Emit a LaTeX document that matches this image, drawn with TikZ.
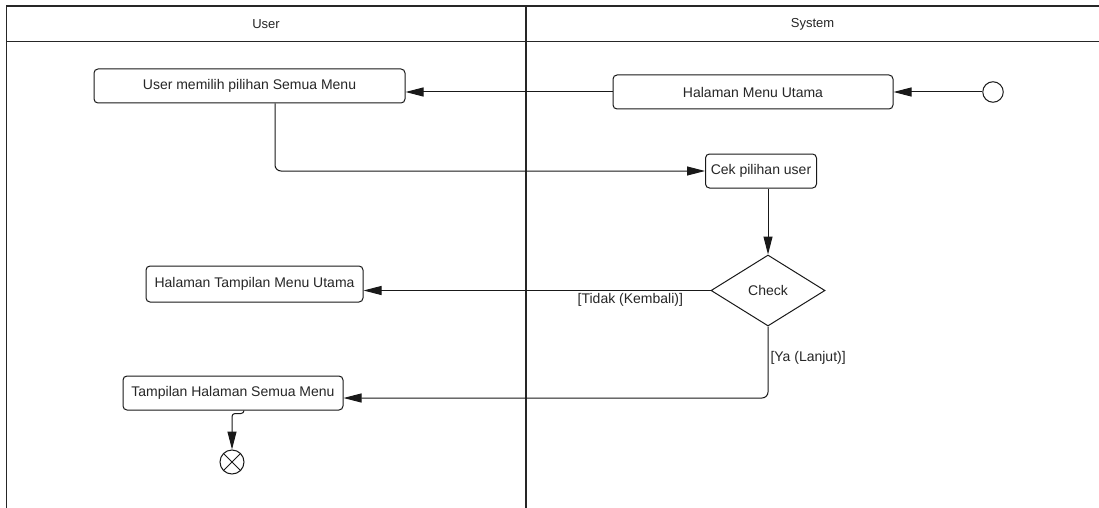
\documentclass[tikz,border=0pt]{standalone}
\usepackage{fontspec}
\setmainfont{Liberation Sans}
\usetikzlibrary{arrows.meta,shapes.geometric}

\tikzset{
  lane/.style={draw=black!85, line width=1.1pt},
  act/.style={draw=black!90, fill=white, rounded corners=4pt, line width=1pt,
    inner sep=0pt, font=\fontsize{14}{16}\selectfont, text=black!85},
  decide/.style={draw=black!90, fill=white, diamond, line width=1pt, inner sep=0pt,
    minimum width=114pt, minimum height=71pt, aspect=1.6,
    font=\fontsize{14}{16}\selectfont, text=black!85},
  flow/.style={draw=black!90, line width=1pt, -{Triangle[length=18pt,width=9pt]}},
  lbl/.style={font=\fontsize{14}{16}\selectfont, text=black!85, inner sep=2pt},
  head/.style={font=\fontsize{13}{15}\selectfont, text=black!85},
}

\begin{document}
\begin{tikzpicture}[x=1pt,y=-1pt]
\useasboundingbox[fill=white] (0,0) rectangle (1099,508);

% swimlane frame
\draw[lane] (1099,6) -- (6.5,6) -- (6.5,508);
\draw[lane] (6.5,41.5) -- (1099,41.5);
\draw[lane] (526,6) -- (526,508);
\node[head] (hUser) at (266,24) {User};
\node[head] (hSys) at (812.5,24) {System};

% activities
\node[act, minimum width=311pt, minimum height=34pt] (pick) at (249.5,86) {User memilih pilihan Semua Menu};
\node[act, minimum width=280pt, minimum height=34pt] (main) at (753,92) {Halaman Menu Utama};
\node[act, minimum width=111pt, minimum height=34pt] (cek) at (761,171) {Cek pilihan user};
\node[decide] (check) at (768,290.5) {Check};
\node[act, minimum width=217pt, minimum height=36pt] (tmu) at (254.5,284) {Halaman Tampilan Menu Utama};
\node[act, minimum width=220pt, minimum height=34pt] (thsm) at (233,393) {Tampilan Halaman Semua Menu};

% start and end
\node[circle, draw=black!90, fill=white, line width=1pt, minimum size=20.5pt, inner sep=0pt] (start) at (993,92) {};
\node[circle, draw=black!90, fill=white, line width=1pt, minimum size=24pt, inner sep=0pt] (final) at (232,462) {};
\draw[line width=1pt, black!90] (final.north east) -- (final.south west)
  (final.north west) -- (final.south east);

% flows
\draw[flow] (start) -- (main);
\draw[flow] (main.west) -- (main.west -| pick.east);
\draw[flow, rounded corners=6pt] ([xshift=25.5pt]pick.south) |- (cek.west);
\draw[flow] ([xshift=7pt]cek.south) -- (check.north);
\draw[flow] (check.west) -- (check.west -| tmu.east)
  node[lbl, below, pos=0.231] {[Tidak (Kembali)]};
\draw[flow, rounded corners=6pt] (check.south) |- ([yshift=-5pt]thsm.east)
  node[lbl, right, pos=0.22] {[Ya (Lanjut)]};
\draw[flow, rounded corners=3pt] ([xshift=11pt]thsm.south) -- ++(0,3) -| (final.north);
\end{tikzpicture}
\end{document}
